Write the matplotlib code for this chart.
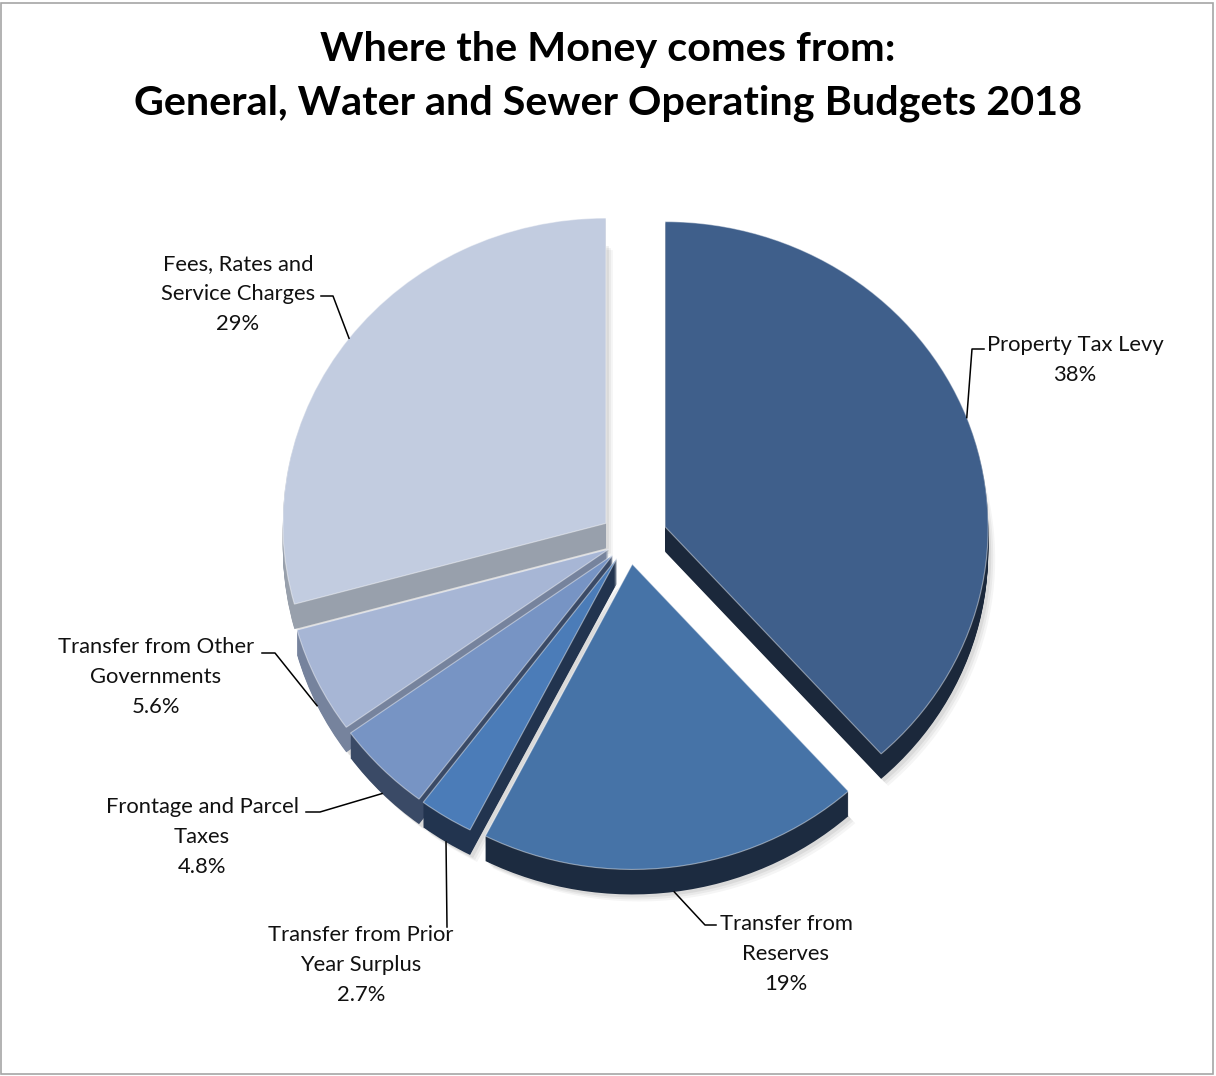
import numpy as np
import matplotlib.pyplot as plt
from matplotlib.patches import Rectangle

# revenue sources, clockwise from 12 o'clock
names = ["Property Tax Levy", "Transfer from\nReserves", "Transfer from Prior\nYear Surplus",
         "Frontage and Parcel\nTaxes", "Transfer from Other\nGovernments",
         "Fees, Rates and\nService Charges"]
values = [38, 19, 2.7, 4.8, 5.6, 29]
explode = [0.12, 0.08, 0.07, 0.07, 0.07, 0.09]

top_colors = ["#3f5f8b", "#4673a7", "#4b7cb8", "#7794c4", "#a7b6d5", "#c2cce0"]
side_colors = ["#1b283b", "#1c2b40", "#22344f", "#3a4a66", "#76839d", "#98a0ac"]

# label block centres (pixels) and leader elbows
label_pos = [(1075, 360), (786, 954), (361, 965), (202, 837), (156, 677), (238, 294)]
elbows = [[(984, 349), (972, 349)], [(716, 925), (705, 925)], [(447, 927)],
          [(306, 812), (320, 812)], [(262, 653), (275, 653)], [(321, 296), (333, 296)]]

W, H = 1216, 1076
R_px, k = 323, 0.945
Cx, Cy = 629, 540
depth_px = 25


def px(x, y):
    return (x - Cx) / R_px, (Cy - y) / (R_px * k)


fig = plt.figure(figsize=(W / 100, H / 100), dpi=100)
ax = fig.add_axes([0, 0, 1, 1])

dz = depth_px / (R_px * k)

# soft drop shadow
for off, a in [(7, 0.08), (5, 0.10), (3, 0.14)]:
    ax.pie(values, explode=explode, startangle=90, counterclock=False,
           colors=["#808080"] * len(values),
           center=(off / R_px, -dz - off / (R_px * k)),
           wedgeprops=dict(linewidth=0, alpha=a))

# extruded sides
for t in np.linspace(dz, 0, depth_px + 1)[:-1]:
    ax.pie(values, explode=explode, startangle=90, counterclock=False,
           colors=side_colors, center=(0, -t), wedgeprops=dict(linewidth=0))

# top faces
wedges, _ = ax.pie(values, explode=explode, startangle=90, counterclock=False,
                   colors=top_colors,
                   wedgeprops=dict(linewidth=0.8, edgecolor=(1, 1, 1, 0.45)))

ax.set_aspect('auto')
ax.set_xlim(px(0, 0)[0], px(W, 0)[0])
ax.set_ylim(px(0, H)[1], px(0, 0)[1])
ax.axis('off')

for w, v, name, (lx, ly), elb in zip(wedges, values, names, label_pos, elbows):
    mid = np.deg2rad((w.theta1 + w.theta2) / 2)
    ax_, ay_ = w.center[0] + w.r * np.cos(mid), w.center[1] + w.r * np.sin(mid)
    if np.sin(mid) < 0:
        ay_ -= dz
    pts = [px(*p) for p in elb] + [(ax_, ay_)]
    ax.plot([p[0] for p in pts], [p[1] for p in pts], color="black", lw=1.1)
    tx, ty = px(lx, ly)
    ax.text(tx, ty, f"{name}\n{v:g}%", ha="center", va="center",
            fontsize=15.8, family="Lato", linespacing=1.6, color="#111111")

fig.text(0.5, 1 - 76 / H, "Where the Money comes from:\nGeneral, Water and Sewer Operating Budgets 2018",
         ha="center", va="center", fontsize=29.8, fontweight="bold", family="Lato",
         linespacing=1.55)

fig.patches.append(Rectangle((1 / W, 2 / H), (W - 4) / W, (H - 5) / H,
                             transform=fig.transFigure, fill=False,
                             edgecolor="#a6a6a6", lw=1.2))

fig.savefig("out.png", dpi=100)
